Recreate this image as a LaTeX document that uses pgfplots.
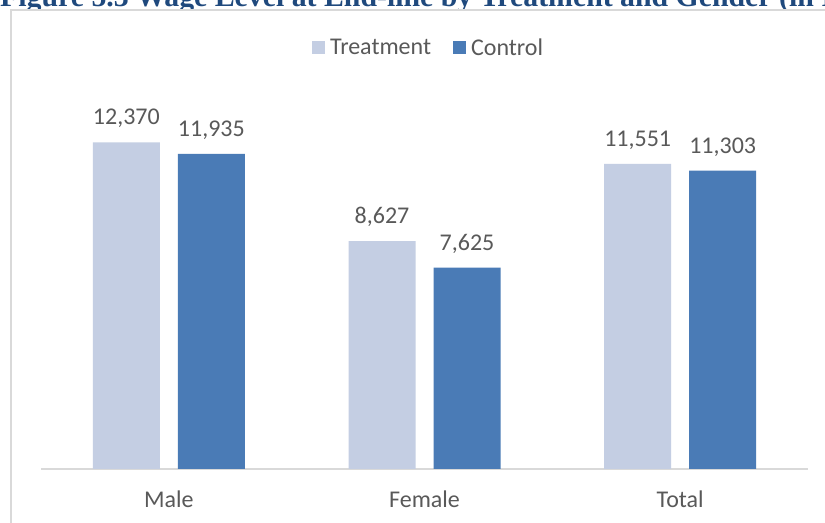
\documentclass[border=0pt]{standalone}
\usepackage{pgfplots}
\pgfplotsset{compat=1.18}
\usepackage{fontspec}
\setmainfont{Carlito}
\newfontfamily\titlefamily{Liberation Serif}

\definecolor{treat}{HTML}{C4CEE3}
\definecolor{ctrl}{HTML}{4A7BB6}
\definecolor{labelgray}{HTML}{595959}
\definecolor{framegray}{HTML}{D9D9D9}
\definecolor{titleblue}{HTML}{1F497D}

\newcommand{\chartfont}{\fontsize{24bp}{28bp}\selectfont}

\begin{document}
\begin{tikzpicture}
\useasboundingbox (0,0) rectangle (825bp,523bp);
\clip (0,0) rectangle (825bp,523bp);

% figure caption (runs under the chart frame)
\node[anchor=base west, inner sep=0pt, text=titleblue,
      font=\titlefamily\bfseries\fontsize{29.8bp}{33bp}\selectfont]
  at (0bp,516bp) {Figure 5.3 Wage Level at End-line by Treatment and Gender (in INR)};

% chart area
\filldraw[fill=white, draw=framegray, line width=1.5bp]
  (11bp,513bp) rectangle (900bp,-30bp);

\begin{axis}[
  at={(41bp,54bp)}, anchor=south west,
  scale only axis, width=767bp, height=369.7bp,
  ybar=18bp, bar width=67bp,
  xmin=-0.5, xmax=2.5, ymin=0, ymax=14000,
  xtick={0,1,2}, xticklabels={Male,Female,Total},
  ytick=\empty,
  axis x line=bottom, axis y line=none,
  axis line style={-, draw=framegray, line width=1.5bp},
  major tick length=0pt,
  xticklabel style={font=\chartfont, text=labelgray, anchor=base, yshift=-38.5bp},
  nodes near coords,
  nodes near coords style={font=\chartfont, text=labelgray, anchor=base, yshift=17.5bp,
    /pgf/number format/.cd, fixed, precision=0, 1000 sep={,}, assume math mode=true},
  /pgf/number format/assume math mode=true,
  legend columns=2,
  legend style={at={(axis description cs:0.504,1.139)}, anchor=center,
    draw=none, fill=none, font=\chartfont, text=labelgray,
    nodes={inner sep=0pt},
    /tikz/every odd column/.append style={column sep=5bp},
    /tikz/every even column/.append style={column sep=22bp}},
]
\addplot[fill=treat, draw=none,
  legend image code/.code={\fill[treat] (0bp,-6.5bp) rectangle (13bp,6.5bp);}]
  coordinates {(0,12370) (1,8627) (2,11551)};
\addplot[fill=ctrl, draw=none,
  legend image code/.code={\fill[ctrl] (0bp,-6.5bp) rectangle (13bp,6.5bp);}]
  coordinates {(0,11935) (1,7625) (2,11303)};
\legend{Treatment, Control}
\end{axis}
\end{tikzpicture}
\end{document}
